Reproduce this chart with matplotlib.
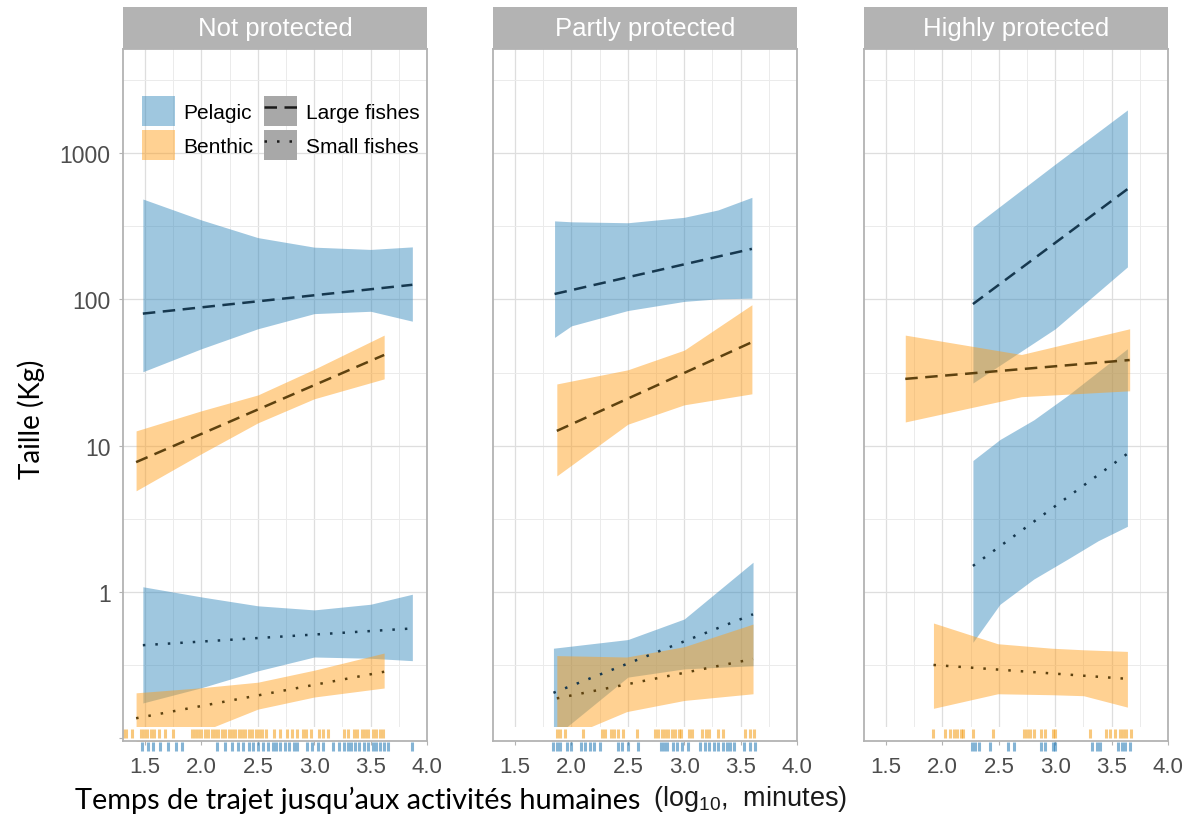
import matplotlib.pyplot as plt
import matplotlib.transforms as mtransforms
from matplotlib.patches import Patch, Rectangle
from matplotlib.lines import Line2D
from matplotlib.legend_handler import HandlerTuple

plt.rcParams['font.family'] = ['Liberation Sans', 'DejaVu Sans']
plt.rcParams['mathtext.fontset'] = 'custom'
plt.rcParams['mathtext.rm'] = 'Liberation Sans'

panels = ["Not protected", "Partly protected", "Highly protected"]

# ---- Not protected ----
np_pl_x = [1.48, 2.0, 2.5, 3.0, 3.5, 3.87]
np_pl_hi = [487, 350, 265, 228, 220, 229]
np_pl_lo = [32, 46, 63, 80, 83, 71]
np_pl_fit = [80, 126]
np_bl_x = [1.42, 2.0, 2.5, 3.0, 3.62]
np_bl_hi = [12.6, 17.3, 22.2, 33.3, 57]
np_bl_lo = [4.9, 8.8, 14.3, 20.9, 28.6]
np_bl_fit = [7.7, 41.7]
np_ps_x = [1.48, 2.0, 2.5, 3.0, 3.5, 3.87]
np_ps_hi = [1.08, 0.92, 0.80, 0.75, 0.82, 0.96]
np_ps_lo = [0.173, 0.22, 0.287, 0.357, 0.35, 0.337]
np_ps_fit = [0.43, 0.56]
np_bs_x = [1.42, 2.0, 2.5, 3.0, 3.62]
np_bs_hi = [0.203, 0.22, 0.24, 0.29, 0.38]
np_bs_lo = [0.084, 0.11, 0.157, 0.19, 0.219]
np_bs_fit = [0.136, 0.283]

# ---- Partly protected ----
pp_pl_x = [1.85, 2.0, 2.5, 3.0, 3.3, 3.6]
pp_pl_hi = [345, 340, 335, 365, 410, 500]
pp_pl_lo = [55, 66, 84, 97, 101, 102]
pp_pl_fit = [109, 222]
pp_bl_x = [1.87, 2.5, 3.0, 3.6]
pp_bl_hi = [26.4, 33, 45, 92]
pp_bl_lo = [6.2, 14, 19, 22.6]
pp_bl_fit = [12.6, 51]
pp_ps_x = [1.84, 2.5, 3.0, 3.61]
pp_ps_hi = [0.41, 0.47, 0.65, 1.59]
pp_ps_lo = [0.10, 0.26, 0.296, 0.311]
pp_ps_fit = [0.203, 0.70]
pp_bs_x = [1.87, 2.49, 3.0, 3.61]
pp_bs_hi = [0.365, 0.357, 0.42, 0.60]
pp_bs_lo = [0.095, 0.151, 0.18, 0.20]
pp_bs_fit = [0.186, 0.346]

# ---- Highly protected ----
hp_pl_x = [2.27, 3.0, 3.64]
hp_pl_hi = [313, 844, 1982]
hp_pl_lo = [26.8, 63, 167]
hp_pl_fit = [93, 569]
hp_bl_x = [1.67, 2.7, 3.66]
hp_bl_hi = [57, 42, 63]
hp_bl_lo = [14.5, 21.6, 23.7]
hp_bl_fit = [28.6, 38.5]
hp_ps_x = [2.27, 2.51, 2.81, 3.11, 3.38, 3.64]
hp_ps_hi = [7.9, 11, 15, 22, 32, 46]
hp_ps_lo = [0.45, 0.82, 1.22, 1.67, 2.23, 2.8]
hp_ps_fit = [1.50, 8.8]
hp_bs_x = [1.92, 2.49, 2.97, 3.25, 3.64]
hp_bs_hi = [0.61, 0.44, 0.41, 0.40, 0.39]
hp_bs_lo = [0.159, 0.20, 0.197, 0.194, 0.162]
hp_bs_fit = [0.315, 0.253]

# rug positions (log10 minutes)
np_rug_ben = [1.30, 1.33, 1.38, 1.46, 1.49, 1.52, 1.55, 1.58, 1.62, 1.68, 1.75,
              1.92, 1.94, 1.97, 2.00, 2.03, 2.06, 2.09, 2.12, 2.15, 2.18, 2.21,
              2.24, 2.27, 2.30, 2.33, 2.36, 2.39, 2.42, 2.45, 2.48, 2.51, 2.54,
              2.57, 2.64, 2.70, 2.76, 2.80, 2.85, 2.90, 2.93, 2.97, 3.04, 3.08,
              3.12, 3.26, 3.30, 3.35, 3.38, 3.42, 3.45, 3.48, 3.52, 3.55, 3.58, 3.61]
np_rug_pel = [1.47, 1.53, 1.57, 1.63, 1.70, 1.77, 1.83, 2.14, 2.21, 2.27, 2.32,
              2.37, 2.42, 2.46, 2.50, 2.55, 2.59, 2.63, 2.66, 2.70, 2.74, 2.78,
              2.82, 2.85, 2.94, 2.98, 3.03, 3.08, 3.17, 3.22, 3.26, 3.30, 3.33,
              3.36, 3.40, 3.44, 3.48, 3.52, 3.55, 3.58, 3.62, 3.65, 3.87]
pp_rug_ben = [1.87, 1.90, 1.94, 2.10, 2.27, 2.30, 2.35, 2.38, 2.41, 2.46, 2.58,
              2.74, 2.77, 2.80, 2.83, 2.86, 2.89, 2.92, 2.95, 2.97, 3.04, 3.07,
              3.16, 3.19, 3.22, 3.30, 3.34, 3.54, 3.58, 3.62]
pp_rug_pel = [1.84, 1.87, 1.90, 1.96, 2.00, 2.08, 2.12, 2.16, 2.20, 2.25, 2.41,
              2.45, 2.50, 2.59, 2.79, 2.82, 2.85, 2.90, 2.94, 2.98, 3.03, 3.14,
              3.18, 3.22, 3.26, 3.30, 3.34, 3.38, 3.41, 3.44, 3.53, 3.58, 3.63]
hp_rug_ben = [1.92, 2.02, 2.07, 2.10, 2.13, 2.16, 2.18, 2.27, 2.45, 2.72, 2.75,
              2.78, 2.81, 2.87, 2.91, 2.98, 3.00, 3.31, 3.45, 3.49, 3.53, 3.57,
              3.60, 3.63, 3.67]
hp_rug_pel = [2.26, 2.29, 2.32, 2.42, 2.58, 2.63, 2.87, 2.91, 2.98, 3.00, 3.33,
              3.37, 3.40, 3.56, 3.59, 3.62, 3.66]

groups = [
    [(np_pl_x, np_pl_lo, np_pl_hi, np_pl_fit, "pel", "large"),
     (np_bl_x, np_bl_lo, np_bl_hi, np_bl_fit, "ben", "large"),
     (np_ps_x, np_ps_lo, np_ps_hi, np_ps_fit, "pel", "small"),
     (np_bs_x, np_bs_lo, np_bs_hi, np_bs_fit, "ben", "small")],
    [(pp_pl_x, pp_pl_lo, pp_pl_hi, pp_pl_fit, "pel", "large"),
     (pp_bl_x, pp_bl_lo, pp_bl_hi, pp_bl_fit, "ben", "large"),
     (pp_ps_x, pp_ps_lo, pp_ps_hi, pp_ps_fit, "pel", "small"),
     (pp_bs_x, pp_bs_lo, pp_bs_hi, pp_bs_fit, "ben", "small")],
    [(hp_pl_x, hp_pl_lo, hp_pl_hi, hp_pl_fit, "pel", "large"),
     (hp_bl_x, hp_bl_lo, hp_bl_hi, hp_bl_fit, "ben", "large"),
     (hp_ps_x, hp_ps_lo, hp_ps_hi, hp_ps_fit, "pel", "small"),
     (hp_bs_x, hp_bs_lo, hp_bs_hi, hp_bs_fit, "ben", "small")],
]
rugs = [(np_rug_ben, np_rug_pel), (pp_rug_ben, pp_rug_pel), (hp_rug_ben, hp_rug_pel)]

fill_col = {"pel": "#2B83BA", "ben": "#FF9F1C"}
fill_alpha = {"pel": 0.45, "ben": 0.48}
line_col = {"pel": "#16384F", "ben": "#5E420F"}
styles = {"large": (0, (5, 3)), "small": (0, (1, 4))}
rug_col = {"pel": "#1F77B4", "ben": "#F39C12"}

W, H = 1201, 820
fig = plt.figure(figsize=(W / 100, H / 100), dpi=100)
lefts = [123, 493, 864]
pw = 304
top, bottom = 50, 742

xticks = [1.5, 2.0, 2.5, 3.0, 3.5, 4.0]
yticks = [0.1, 1, 10, 100, 1000]

for i, name in enumerate(panels):
    ax = fig.add_axes([lefts[i] / W, (H - bottom) / H, pw / W, (bottom - top) / H])
    ax.set_yscale('log')
    ax.set_xlim(1.304, 4.0)
    ax.set_ylim(0.095, 5180)
    ax.set_xticks(xticks)
    ax.set_xticklabels([f"{t:.1f}" for t in xticks])
    ax.set_xticks([1.75, 2.25, 2.75, 3.25, 3.75], minor=True)
    ax.set_yticks(yticks)
    ax.set_yticks([10 ** (k + 0.5) for k in range(-1, 4)], minor=True)
    ax.grid(which='major', color='#DEDEDE', lw=0.9)
    ax.grid(which='minor', color='#EBEBEB', lw=0.7)
    ax.set_axisbelow(True)
    ax.tick_params(which='minor', length=0, labelleft=False)
    ax.tick_params(axis='x', which='major', length=3, width=0.8, color='#B3B3B3',
                   pad=8, labelsize=16, labelcolor='#4D4D4D')
    if i == 0:
        ax.set_yticklabels(['', '1', '10', '100', '1000'])
        ax.tick_params(axis='y', which='major', length=3, width=0.8, color='#B3B3B3',
                       pad=6, labelsize=16.5, labelcolor='#4D4D4D')
    else:
        ax.tick_params(axis='y', which='major', length=0, labelleft=False)
    for s in ax.spines.values():
        s.set_color('#B3B3B3')
        s.set_linewidth(1.3)
        s.set_zorder(6)

    for hab in ["pel", "ben"]:
        for xs, lo, hi, fit, h, size in groups[i]:
            if h != hab:
                continue
            ax.fill_between(xs, lo, hi, color=fill_col[h], alpha=fill_alpha[h],
                            lw=0, zorder=2)
    for xs, lo, hi, fit, h, size in groups[i]:
        ax.plot([xs[0], xs[-1]], fit, color=line_col[h], lw=1.8,
                linestyle=styles[size], zorder=3)

    # white strip where the rug sits
    ax.add_patch(Rectangle((0, 0), 1, 14 / (bottom - top), transform=ax.transAxes,
                           color='white', lw=0, zorder=4))
    trans = mtransforms.blended_transform_factory(ax.transData, ax.transAxes)
    ben, pel = rugs[i]
    ax.vlines(ben, 0.004, 0.018, transform=trans, colors=rug_col["ben"],
              lw=2.2, alpha=0.55, zorder=5)
    ax.vlines(pel, -0.002, -0.015, transform=trans, colors=rug_col["pel"],
              lw=2.2, alpha=0.55, zorder=5, clip_on=False)

    # strip
    sax = fig.add_axes([lefts[i] / W, (H - top) / H, pw / W, 42 / H])
    sax.set_facecolor('#B3B3B3')
    sax.set_xticks([])
    sax.set_yticks([])
    for s in sax.spines.values():
        s.set_visible(False)
    sax.text(0.5, 0.5, name, color='white', fontsize=18.5, ha='center', va='center',
             transform=sax.transAxes)

    if i == 0:
        handles = [Patch(facecolor=fill_col["pel"], alpha=fill_alpha["pel"], lw=0),
                   Patch(facecolor=fill_col["ben"], alpha=fill_alpha["ben"], lw=0),
                   (Patch(facecolor='#A8A8A8', lw=0),
                    Line2D([], [], color='#1A1A1A', lw=1.8, linestyle=styles["large"])),
                   (Patch(facecolor='#A8A8A8', lw=0),
                    Line2D([], [], color='#1A1A1A', lw=1.8, linestyle=styles["small"]))]
        labels = ["Pelagic", "Benthic", "Large fishes", "Small fishes"]
        ax.legend(handles, labels, ncol=2, loc='upper left',
                  bbox_to_anchor=((142 - 123) / pw, (bottom - 97) / (bottom - top)),
                  frameon=False, fontsize=15, handlelength=1.6, handleheight=1.85,
                  handletextpad=0.4, columnspacing=0.5, labelspacing=0.2,
                  borderpad=0, borderaxespad=0,
                  handler_map={tuple: HandlerTuple(ndivide=1)})

fig.text(31 / W, 1 - 419 / H, "Taille (Kg)", rotation=90, fontsize=20,
         family='Lato', ha='center', va='center')
fig.text(75 / W, 1 - 800 / H, "Temps de trajet jusqu\u2019aux activités humaines",
         fontsize=20.8, family='Lato', ha='left', va='center')
fig.text(653 / W, 1 - 799 / H, r"(log$_{10}$,  minutes)", fontsize=19.5,
         color='#1A1A1A', ha='left', va='center')

fig.savefig('out.png', dpi=100)
